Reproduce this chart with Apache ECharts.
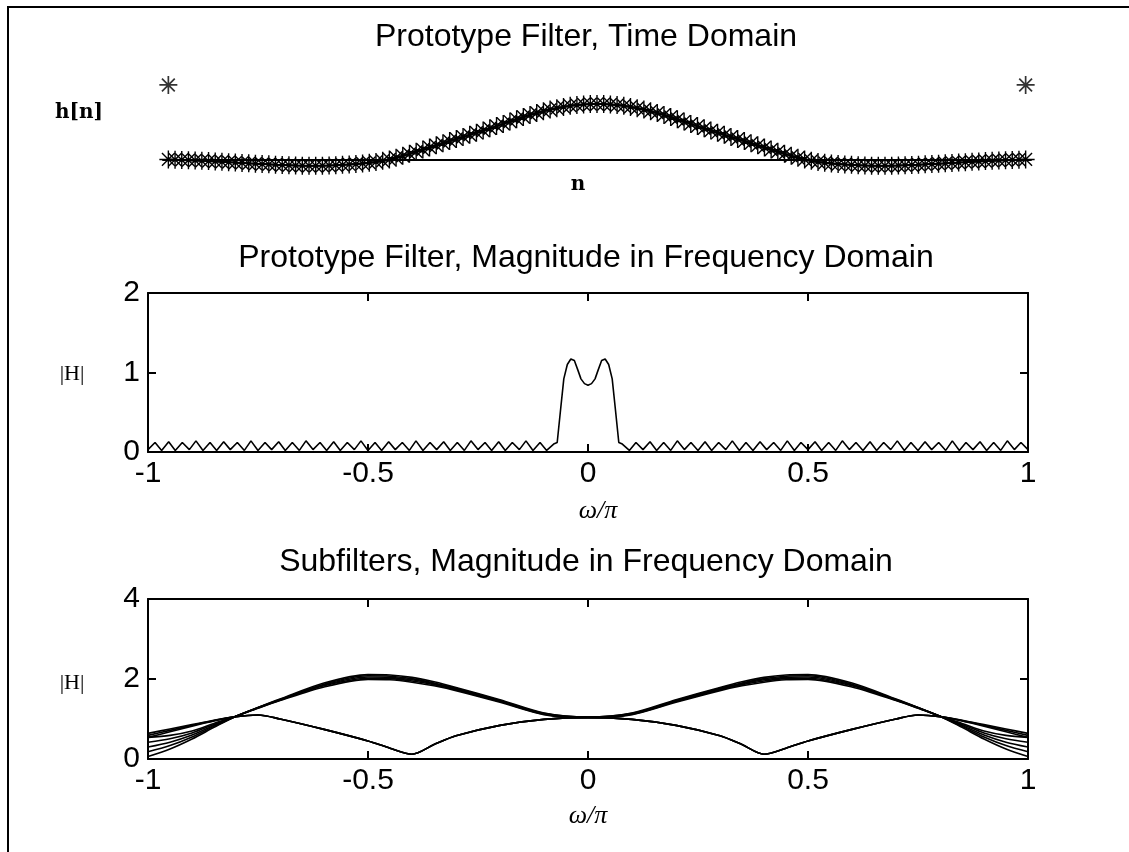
<!DOCTYPE html>
<html><head><meta charset="utf-8">
<script src="https://cdn.jsdelivr.net/npm/echarts@6/dist/echarts.min.js"></script>
<style>html,body{margin:0;padding:0;background:#fff}#c{width:1129px;height:852px}</style>
</head><body><div id="c"></div>
<script>
// ---------- Panel 1: prototype filter h[n], n = 0..128 ----------
const topH = [
  0.010, 0.006, 0.002, -0.003, -0.008, -0.014, -0.020, -0.026,
  -0.032, -0.039, -0.046, -0.053, -0.060, -0.066, -0.072, -0.078,
  -0.084, -0.089, -0.094, -0.098, -0.101, -0.103, -0.103, -0.101,
  -0.098, -0.093, -0.087, -0.080, -0.072, -0.062, -0.050, -0.035,
  -0.015, 0.010, 0.040, 0.074, 0.110, 0.148, 0.186, 0.224,
  0.262, 0.300, 0.338, 0.375, 0.412, 0.449, 0.487, 0.525,
  0.565, 0.605, 0.645, 0.687, 0.729, 0.768, 0.805, 0.840,
  0.872, 0.901, 0.926, 0.948, 0.967, 0.981, 0.992, 0.998,
  1.000,
  0.998, 0.992, 0.981, 0.967, 0.948, 0.926, 0.901, 0.872,
  0.840, 0.805, 0.768, 0.729, 0.687, 0.645, 0.605, 0.565,
  0.525, 0.487, 0.449, 0.412, 0.375, 0.338, 0.300, 0.262,
  0.224, 0.186, 0.148, 0.110, 0.074, 0.040, 0.010, -0.015,
  -0.035, -0.050, -0.062, -0.072, -0.080, -0.087, -0.093, -0.098,
  -0.101, -0.103, -0.103, -0.101, -0.098, -0.094, -0.089, -0.084,
  -0.078, -0.072, -0.066, -0.060, -0.053, -0.046, -0.039, -0.032,
  -0.026, -0.020, -0.014, -0.008, -0.003, 0.002, 0.006, 0.010
];
const topOutlierN = [0, 128];
const topOutlierH = [1.34, 1.34];

// ---------- Panel 2: prototype |H| vs omega/pi ----------
const midX = [
  -1, -0.984, -0.969, -0.953, -0.938, -0.922, -0.906, -0.891, -0.875, -0.859,
  -0.844, -0.828, -0.813, -0.797, -0.781, -0.766, -0.75, -0.734, -0.719, -0.703,
  -0.688, -0.672, -0.656, -0.641, -0.625, -0.609, -0.594, -0.578, -0.563, -0.547,
  -0.531, -0.516, -0.5, -0.484, -0.469, -0.453, -0.438, -0.422, -0.406, -0.391,
  -0.375, -0.359, -0.344, -0.328, -0.313, -0.297, -0.281, -0.266, -0.25, -0.234,
  -0.219, -0.203, -0.188, -0.172, -0.156, -0.141, -0.125, -0.109, -0.094, -0.078,
  -0.07, -0.062, -0.055, -0.047, -0.039, -0.031, -0.023, -0.016, -0.008, 0,
  0.008, 0.016, 0.023, 0.031, 0.039, 0.047, 0.055, 0.062, 0.07,
  0.078, 0.094, 0.109, 0.125, 0.141, 0.156, 0.172, 0.188, 0.203, 0.219,
  0.234, 0.25, 0.266, 0.281, 0.297, 0.313, 0.328, 0.344, 0.359, 0.375,
  0.391, 0.406, 0.422, 0.438, 0.453, 0.469, 0.484, 0.5, 0.516, 0.531,
  0.547, 0.563, 0.578, 0.594, 0.609, 0.625, 0.641, 0.656, 0.672, 0.688,
  0.703, 0.719, 0.734, 0.75, 0.766, 0.781, 0.797, 0.813, 0.828, 0.844,
  0.859, 0.875, 0.891, 0.906, 0.922, 0.938, 0.953, 0.969, 0.984, 1
];
const midY = [
  0.03, 0.12, 0.02, 0.13, 0.02, 0.12, 0.03, 0.14, 0.02, 0.12,
  0.02, 0.13, 0.03, 0.12, 0.02, 0.14, 0.02, 0.12, 0.03, 0.13,
  0.02, 0.12, 0.02, 0.14, 0.03, 0.12, 0.02, 0.13, 0.02, 0.12,
  0.03, 0.14, 0.02, 0.12, 0.02, 0.13, 0.03, 0.12, 0.02, 0.14,
  0.02, 0.12, 0.03, 0.13, 0.02, 0.12, 0.02, 0.14, 0.03, 0.12,
  0.02, 0.13, 0.02, 0.12, 0.03, 0.14, 0.02, 0.12, 0.02, 0.10,
  0.12, 0.55, 0.92, 1.10, 1.17, 1.15, 1.03, 0.92, 0.86, 0.84,
  0.86, 0.92, 1.03, 1.15, 1.17, 1.10, 0.92, 0.55, 0.12,
  0.10, 0.02, 0.12, 0.03, 0.13, 0.02, 0.12, 0.02, 0.14, 0.03,
  0.12, 0.02, 0.13, 0.02, 0.12, 0.03, 0.14, 0.02, 0.12, 0.02,
  0.13, 0.03, 0.12, 0.02, 0.14, 0.02, 0.12, 0.03, 0.13, 0.02,
  0.12, 0.02, 0.14, 0.03, 0.12, 0.02, 0.13, 0.02, 0.12, 0.03,
  0.14, 0.02, 0.12, 0.02, 0.13, 0.03, 0.12, 0.02, 0.14, 0.02,
  0.12, 0.03, 0.13, 0.02, 0.12, 0.02, 0.14, 0.03, 0.12, 0.03
];

// ---------- Panel 3: subfilter magnitudes ----------
const subX = [-1, -0.95, -0.9, -0.85, -0.8, -0.75, -0.7, -0.6, -0.5, -0.45, -0.4, -0.35, -0.3, -0.2, -0.1,
  0, 0.1, 0.2, 0.3, 0.35, 0.4, 0.45, 0.5, 0.6, 0.7, 0.75, 0.8, 0.85, 0.9, 0.95, 1];
const subA1 = [0.06,0.25,0.50,0.79,1.07,1.29,1.50,1.90,2.11,2.10,2.04,1.93,1.79,1.48,1.15, 1.05, 1.15,1.48,1.79,1.93,2.04,2.10,2.11,1.90,1.50,1.29,1.07,0.79,0.50,0.25,0.06];
const subA2 = [0.18,0.335,0.55,0.815,1.07,1.286,1.49,1.87,2.08,2.07,2.01,1.90,1.77,1.465,1.14, 1.045, 1.14,1.465,1.77,1.90,2.01,2.07,2.08,1.87,1.49,1.286,1.07,0.815,0.55,0.335,0.18];
const subA3 = [0.30,0.42,0.60,0.84,1.07,1.28,1.48,1.85,2.05,2.04,1.98,1.88,1.75,1.45,1.13, 1.04, 1.13,1.45,1.75,1.88,1.98,2.04,2.05,1.85,1.48,1.28,1.07,0.84,0.60,0.42,0.30];
const subA4 = [0.42,0.505,0.65,0.865,1.07,1.274,1.47,1.83,2.02,2.01,1.95,1.86,1.73,1.435,1.12, 1.035, 1.12,1.435,1.73,1.86,1.95,2.01,2.02,1.83,1.47,1.274,1.07,0.865,0.65,0.505,0.42];
const subA5 = [0.54,0.59,0.70,0.89,1.07,1.27,1.46,1.80,1.99,1.98,1.92,1.83,1.71,1.42,1.11, 1.03, 1.11,1.42,1.71,1.83,1.92,1.98,1.99,1.80,1.46,1.27,1.07,0.89,0.70,0.59,0.54];
const subB1 = [0.64,0.75,0.86,0.97,1.06,1.10,1.00,0.74,0.45,0.27,0.12,0.36,0.58,0.84,0.99, 1.04, 0.99,0.84,0.58,0.36,0.12,0.27,0.45,0.74,1.00,1.10,1.06,0.97,0.86,0.75,0.64];
const subB2 = [0.59,0.715,0.84,0.96,1.06,1.10,1.00,0.74,0.45,0.27,0.12,0.36,0.58,0.84,0.99, 1.04, 0.99,0.84,0.58,0.36,0.12,0.27,0.45,0.74,1.00,1.10,1.06,0.96,0.84,0.715,0.59];
const subB3 = [0.54,0.68,0.82,0.95,1.06,1.10,1.00,0.74,0.45,0.27,0.12,0.36,0.58,0.84,0.99, 1.04, 0.99,0.84,0.58,0.36,0.12,0.27,0.45,0.74,1.00,1.10,1.06,0.95,0.82,0.68,0.54];

// ---------- tick labels ----------
const freqTicks = [-1, -0.5, 0, 0.5, 1];
const midYTicks = [0, 1, 2];
const subYTicks = [0, 2, 4];

const titles = ['Prototype Filter, Time Domain',
  'Prototype Filter, Magnitude in Frequency Domain',
  'Subfilters, Magnitude in Frequency Domain'];

const SANS = '"Liberation Sans", Arial, Helvetica, sans-serif';
const STAR = 'path://M0,9L18,9M9,0L9,18M2.6,2.6L15.4,15.4M15.4,2.6L2.6,15.4';
const zip = (xs, ys) => xs.map((x, i) => [x, ys[i]]);

function xAx(grid, pos, labels) {
  return {
    gridIndex: grid, type: 'value', position: pos,
    min: freqTicks[0], max: freqTicks[freqTicks.length - 1], interval: freqTicks[1] - freqTicks[0],
    axisLine: { show: true, onZero: false, lineStyle: { color: '#000', width: 2 } },
    axisTick: { show: true, inside: true, length: 8, lineStyle: { color: '#000', width: 2 } },
    axisLabel: { show: labels, color: '#000', fontSize: 30, fontFamily: SANS, margin: 7 },
    splitLine: { show: false }
  };
}
function yAx(grid, pos, labels, ticks) {
  return {
    gridIndex: grid, type: 'value', position: pos,
    min: ticks[0], max: ticks[ticks.length - 1], interval: ticks[1] - ticks[0],
    axisLine: { show: true, onZero: false, lineStyle: { color: '#000', width: 2 } },
    axisTick: { show: true, inside: true, length: 8, lineStyle: { color: '#000', width: 2 } },
    axisLabel: { show: labels, color: '#000', fontSize: 30, fontFamily: SANS, margin: 8 },
    splitLine: { show: false }
  };
}
function txt(text, x, y, font) {
  return { type: 'text', silent: true,
    style: { text: text, x: x, y: y, font: font, fill: '#000',
      textAlign: 'center', textVerticalAlign: 'middle', align: 'center', verticalAlign: 'middle' } };
}
function subLine(data) {
  return { type: 'line', xAxisIndex: 3, yAxisIndex: 3, data: zip(subX, data),
    showSymbol: false, smooth: 0.3, lineStyle: { color: '#000', width: 1.6 } };
}

const chart = echarts.init(document.getElementById('c'), null, { renderer: 'canvas' });
chart.setOption({
  animation: false,
  backgroundColor: '#fff',
  grid: [
    { left: 163, top: 76, width: 868, height: 112 },
    { left: 148, top: 293, width: 880, height: 159 },
    { left: 148, top: 599, width: 880, height: 160 }
  ],
  xAxis: [
    { gridIndex: 0, type: 'value', min: -0.8, max: 128.8,
      axisLine: { show: true, onZero: true, lineStyle: { color: '#000', width: 2 } },
      axisTick: { show: false }, axisLabel: { show: false }, splitLine: { show: false } },
    xAx(1, 'bottom', true), xAx(1, 'top', false),
    xAx(2, 'bottom', true), xAx(2, 'top', false)
  ],
  yAxis: [
    { gridIndex: 0, type: 'value', min: -0.5, max: 1.5, show: false, splitLine: { show: false } },
    yAx(1, 'left', true, midYTicks), yAx(1, 'right', false, midYTicks),
    yAx(2, 'left', true, subYTicks), yAx(2, 'right', false, subYTicks)
  ],
  series: [
    { type: 'line', xAxisIndex: 0, yAxisIndex: 0, data: topH.map((v, i) => [i, v]),
      symbol: STAR, symbolSize: 18, showSymbol: true,
      lineStyle: { color: '#000', width: 2 },
      itemStyle: { color: 'rgba(0,0,0,0)', borderColor: '#000', borderWidth: 1.4 } },
    { type: 'scatter', xAxisIndex: 0, yAxisIndex: 0, data: zip(topOutlierN, topOutlierH),
      symbol: STAR, symbolSize: 18,
      itemStyle: { color: 'rgba(0,0,0,0)', borderColor: '#000', borderWidth: 1.7 } },
    { type: 'line', xAxisIndex: 1, yAxisIndex: 1, data: zip(midX, midY),
      showSymbol: false, lineStyle: { color: '#000', width: 1.6 } },
    subLine(subA1), subLine(subA2), subLine(subA3), subLine(subA4), subLine(subA5),
    subLine(subB1), subLine(subB2), subLine(subB3)
  ],
  graphic: [
    { type: 'polyline', silent: true, shape: { points: [[8, 852], [8, 7], [1129, 7]] },
      style: { stroke: '#000', lineWidth: 2, fill: null } },
    txt(titles[0], 586, 37, '32px ' + SANS),
    txt(titles[1], 586, 258, '32px ' + SANS),
    txt(titles[2], 586, 562, '32px ' + SANS),
    txt('h[n]', 79, 113, 'bold 20px "DejaVu Serif", serif'),
    txt('n', 578, 185, 'bold 20px "DejaVu Serif", serif'),
    txt('|H|', 72, 374, '22px "Liberation Serif", serif'),
    txt('|H|', 72, 683, '22px "Liberation Serif", serif'),
    txt('ω/π', 598, 511, 'italic 26px "Liberation Serif", serif'),
    txt('ω/π', 588, 816, 'italic 26px "Liberation Serif", serif')
  ]
});
</script></body></html>
